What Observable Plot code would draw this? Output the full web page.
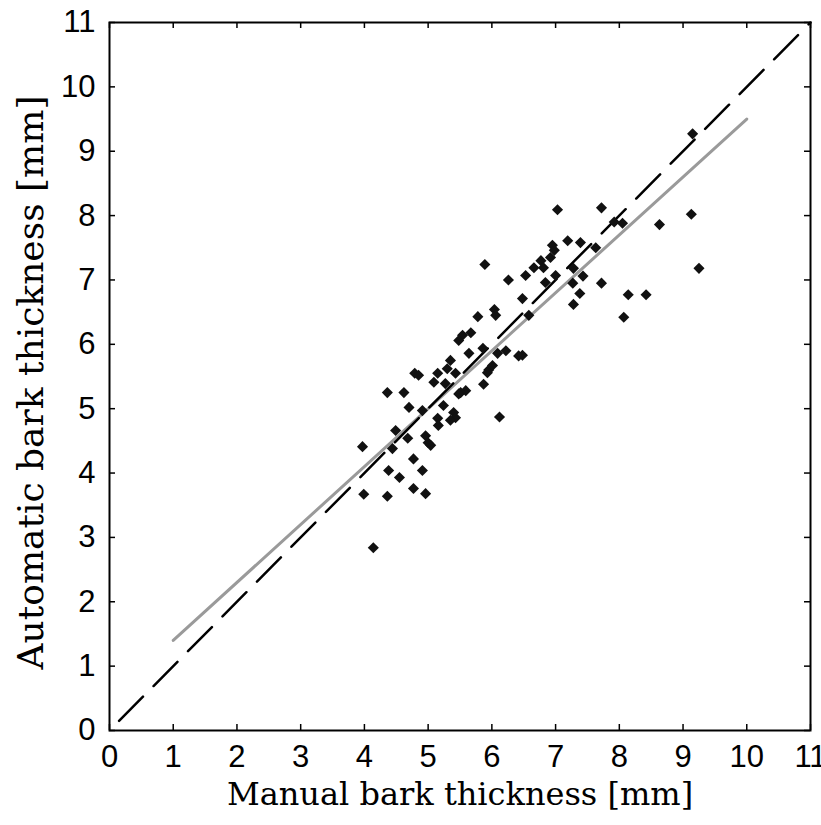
<!DOCTYPE html>
<html>
<head>
<meta charset="utf-8">
<script src="https://cdn.jsdelivr.net/npm/d3@7"></script>
<script src="https://cdn.jsdelivr.net/npm/@observablehq/plot@0.6"></script>
<style>
  html, body { margin: 0; padding: 0; background: #fff; }
  #chart { width: 821px; height: 825px; }
</style>
</head>
<body>
<div id="chart"></div>
<script>
// ---- data ----
const manual = [
  9.15, 9.13, 9.25, 8.63, 8.42, 8.14, 8.07, 7.72, 7.03, 7.92, 8.05, 7.63, 7.72, 7.43, 7.39, 7.19, 7.28, 7.38, 7.28, 7.27,
  6.95, 6.98, 6.92, 6.77, 6.66, 6.81, 6.53, 7.00, 6.84, 6.48, 6.58, 6.48, 6.26, 5.89,
  6.04, 6.06, 5.78, 5.54, 5.67, 5.48, 5.86, 5.64, 6.09, 6.22, 6.42, 5.35, 5.95, 6.01, 5.87, 5.93,
  5.59, 5.51, 5.48, 5.43, 5.30, 5.27, 5.15, 5.09, 4.79, 4.85, 4.36, 4.62, 4.70, 4.91, 5.24, 6.12,
  5.15, 5.40, 5.43, 5.35, 5.16, 4.49, 4.44, 4.68, 3.97, 4.96, 5.04, 5.00, 4.77, 4.91, 4.38, 4.55,
  4.77, 4.96, 4.36, 3.99, 4.14
];
const automatic = [
  9.27, 8.02, 7.18, 7.86, 6.77, 6.77, 6.42, 8.12, 8.09, 7.90, 7.88, 7.50, 6.95, 7.06, 7.58, 7.61, 7.18, 6.79, 6.62, 6.95,
  7.54, 7.46, 7.35, 7.30, 7.19, 7.19, 7.07, 7.07, 6.96, 6.71, 6.45, 5.83, 7.00, 7.24,
  6.54, 6.45, 6.43, 6.14, 6.18, 6.06, 5.94, 5.86, 5.86, 5.90, 5.82, 5.75, 5.60, 5.67, 5.38, 5.56,
  5.28, 5.25, 5.23, 5.55, 5.62, 5.39, 5.55, 5.41, 5.55, 5.52, 5.25, 5.25, 5.02, 4.97, 5.05, 4.87,
  4.85, 4.94, 4.86, 4.82, 4.74, 4.66, 4.38, 4.54, 4.41, 4.58, 4.43, 4.47, 4.22, 4.04, 4.04, 3.93,
  3.76, 3.68, 3.64, 3.67, 2.84
];
const identityX = [0.15, 11];
const identityY = [0.15, 11];
const fitX = [1, 10];
const fitY = [1.4, 9.5];
const xTicks = [0, 1, 2, 3, 4, 5, 6, 7, 8, 9, 10, 11];
const yTicks = [0, 1, 2, 3, 4, 5, 6, 7, 8, 9, 10, 11];
const xLabel = "Manual bark thickness [mm]";
const yLabel = "Automatic bark thickness [mm]";

const points = manual.map((m, i) => ({x: m, y: automatic[i]}));
const identity = identityX.map((v, i) => ({x: v, y: identityY[i]}));
const fit = fitX.map((v, i) => ({x: v, y: fitY[i]}));

const W = 821, H = 825;
const mL = 109, mR = 11, mT = 22, mB = 95;
const fw = W - mL - mR, fh = H - mT - mB;
const tick = 6;

const chart = Plot.plot({
  width: W,
  height: H,
  marginLeft: mL,
  marginRight: mR,
  marginTop: mT,
  marginBottom: mB,
  x: {domain: [0, 11]},
  y: {domain: [0, 11]},
  style: {fontFamily: "'Liberation Sans', Arial, sans-serif", fontSize: "31px", background: "#fff", color: "#000"},
  marks: [
    Plot.line(fit, {x: "x", y: "y", stroke: "#9a9a9a", strokeWidth: 3}),
    Plot.line(identity, {x: "x", y: "y", stroke: "#000", strokeWidth: 2.5, strokeDasharray: "34,15"}),
    Plot.dot(points, {x: "x", y: "y", symbol: "diamond2", r: 5, fill: "#111", stroke: "none"}),
    // inward ticks on all four sides
    Plot.tickX(xTicks, {x: d => d, insetTop: fh - tick, stroke: "#000", strokeWidth: 1.5}),
    Plot.tickX(xTicks, {x: d => d, insetBottom: fh - tick, stroke: "#000", strokeWidth: 1.5}),
    Plot.tickY(yTicks, {y: d => d, insetRight: fw - tick, stroke: "#000", strokeWidth: 1.5}),
    Plot.tickY(yTicks, {y: d => d, insetLeft: fw - tick, stroke: "#000", strokeWidth: 1.5}),
    Plot.axisX({ticks: xTicks, tickSize: 0, tickPadding: 14, label: null, tickFormat: d => String(d)}),
    Plot.axisY({ticks: yTicks, tickSize: 0, tickPadding: 14, label: null, tickFormat: d => String(d)}),
    Plot.frame({stroke: "#000", strokeWidth: 2}),
    Plot.text([xLabel], {
      text: d => d, frameAnchor: "bottom", dy: 74, textAnchor: "middle",
      fontFamily: "'DejaVu Serif', serif", fontSize: 32, fill: "#000"
    }),
    Plot.text([yLabel], {
      text: d => d, frameAnchor: "left", dx: -78, dy: 6, rotate: -90, textAnchor: "middle",
      fontFamily: "'DejaVu Serif', serif", fontSize: 36, fill: "#000"
    })
  ]
});
document.getElementById("chart").appendChild(chart);
</script>
</body>
</html>
